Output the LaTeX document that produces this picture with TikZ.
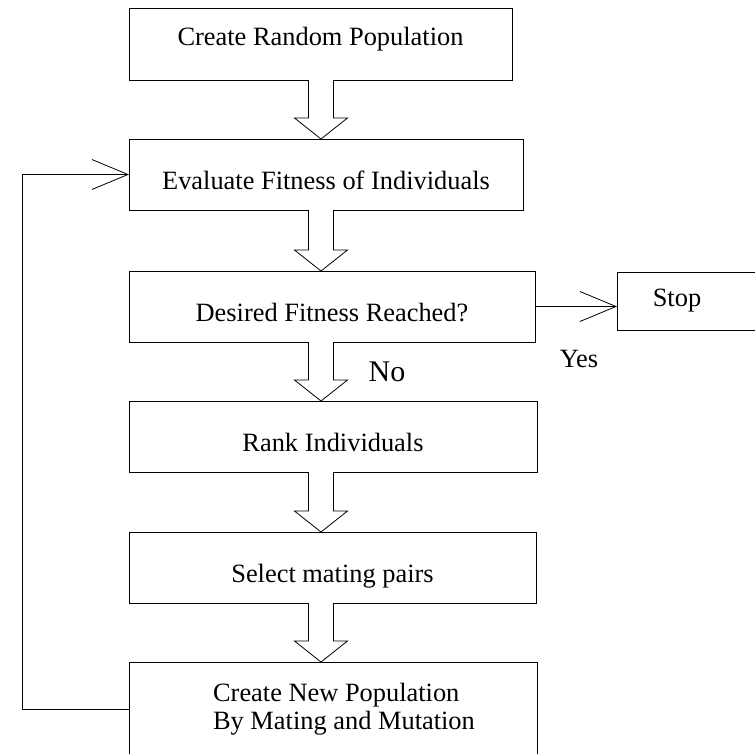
\documentclass[tikz,border=0pt]{standalone}
\usepackage{fontspec}
\setmainfont{Liberation Serif}
\usetikzlibrary{arrows.meta,calc}

\newcommand{\blockarrow}[2]{%
	\draw[blockline] let \p1=(#1.south), \p2=(#2.north) in
		(308.5pt,\y1) -- (308.5pt,\y2+21pt) -- (294.5pt,\y2+21pt) -- (321pt,\y2)
		-- (347.5pt,\y2+21pt) -- (333.5pt,\y2+21pt) -- (333.5pt,\y1);
}

\begin{document}
\begin{tikzpicture}[x=1pt, y=-1pt, line width=0.8pt,
		every node/.style={font=\fontsize{26.4}{28}\selectfont, inner sep=0pt, outer sep=0pt},
		box/.style={draw, rectangle, anchor=north west, align=center},
		hightext/.style={text height=18pt, text depth=16pt},
		lowtext/.style={text height=31pt, text depth=2pt},
		blockline/.style={fill=white, line join=miter},
		arr/.style={-{Straight Barb[length=36pt,width=30pt]}}]
		\useasboundingbox (0,0) rectangle (755,753);
		
		\node[box, hightext, minimum width=383pt, minimum height=72pt] (create) at (129, 8) {Create Random Population};
		\node[box, lowtext, minimum width=394pt, minimum height=71pt] (evaluate) at (129, 139) {Evaluate Fitness of Individuals};
		\node[box, lowtext, minimum width=406pt, minimum height=71pt] (desired) at (129, 271) {Desired Fitness Reached?};
		\node[box, lowtext, minimum width=408pt, minimum height=71pt] (rank) at (129, 401) {Rank Individuals};
		\node[box, lowtext, minimum width=407pt, minimum height=71pt] (select) at (129, 532) {Select mating pairs};
		\node[box, minimum width=408pt, minimum height=94pt, align=left] (newpop) at (129, 662)
			{\hspace*{22pt}Create New Population\\\hspace*{22pt}By Mating and Mutation};
		
		\node[box, minimum width=140pt, minimum height=58pt] (stop) at (617, 272) {Stop\hspace*{20pt}};
		
		\node (yes) at (579, 359) {Yes};
		\node[font=\fontsize{30}{32}\selectfont] (no) at (387, 372) {No};
		
		\blockarrow{create}{evaluate}
		\blockarrow{evaluate}{desired}
		\blockarrow{desired}{rank}
		\blockarrow{rank}{select}
		\blockarrow{select}{newpop}
		
		\draw[arr] (desired.east) -- (desired.east -| stop.west);
		\draw[arr] (newpop.west) -- ++(-107, 0) |- (evaluate.west);
	\end{tikzpicture}
\end{document}
